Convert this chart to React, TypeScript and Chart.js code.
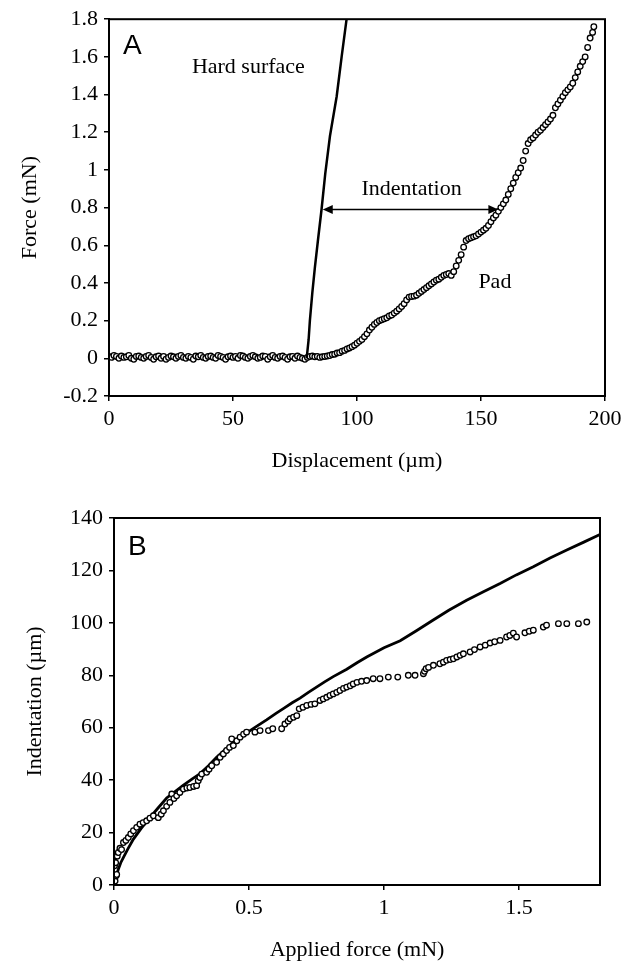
import React, { useEffect, useRef } from 'react';
import { Chart, registerables } from 'chart.js';

Chart.register(...registerables);

const SERIF = "'Liberation Serif', 'Times New Roman', serif";
const SANS = "'Liberation Sans', Arial, sans-serif";

// ---------- Panel A : Force vs displacement ----------
const dispTicks = [0, 50, 100, 150, 200];
const forceTicks = [-0.2, 0, 0.2, 0.4, 0.6, 0.8, 1, 1.2, 1.4, 1.6, 1.8];

const hardSurface: [number, number][] = [
  [79.7, 0.0], [80.5, 0.1], [81, 0.2], [82, 0.35], [83, 0.48], [84.2, 0.62],
  [85.7, 0.79], [87.2, 0.98], [89.1, 1.18], [91.8, 1.39], [93.8, 1.6], [95.8, 1.8],
];

const padPoints: [number, number][] = [
  [0, 0.01], [1, 0.005], [2, 0.015], [3, 0.01], [4, 0.0], [5, 0.012], [6, 0.005], [7, 0.008],
  [8, 0.015], [9, 0.0], [10, -0.005], [11, 0.01], [12, 0.012], [13, 0.005], [14, 0.0], [15, 0.01],
  [16, 0.015], [17, 0.005], [18, -0.005], [19, 0.008], [20, 0.012], [21, 0.0], [22, 0.01], [23, -0.005],
  [24, 0.005], [25, 0.012], [26, 0.008], [27, 0.0], [28, 0.01], [29, 0.015], [30, 0.005], [31, 0.0],
  [32, 0.01], [33, 0.005], [34, -0.005], [35, 0.012], [36, 0.008], [37, 0.015], [38, 0.005], [39, 0.0],
  [40, 0.01], [41, 0.012], [42, 0.005], [43, 0.0], [44, 0.015], [45, 0.01], [46, 0.005], [47, -0.005],
  [48, 0.008], [49, 0.012], [50, 0.005], [51, 0.01], [52, 0.0], [53, 0.015], [54, 0.012], [55, 0.005],
  [56, 0.0], [57, 0.01], [58, 0.015], [59, 0.008], [60, 0.0], [61, 0.005], [62, 0.012], [63, 0.01],
  [64, -0.005], [65, 0.008], [66, 0.015], [67, 0.005], [68, 0.0], [69, 0.01], [70, 0.012], [71, 0.005],
  [72, -0.005], [73, 0.008], [74, 0.01], [75, 0.0], [76, 0.012], [77, 0.005], [78, 0.0], [79, -0.005],
  [80, 0.005], [81, 0.01], [82, 0.012], [83, 0.008], [84, 0.01],
  [85, 0.005], [86, 0.008], [87, 0.01], [88, 0.012], [89, 0.015], [90, 0.02], [91, 0.022], [92, 0.028],
  [93, 0.03], [94, 0.038], [95, 0.042], [96, 0.05], [97, 0.055], [98, 0.062], [99, 0.07], [100, 0.08],
  [101, 0.09], [102, 0.1], [103, 0.115], [104, 0.13], [105, 0.15], [106, 0.165], [107, 0.18], [108, 0.19],
  [109, 0.2], [110, 0.205], [111, 0.21], [112, 0.215], [113, 0.225], [114, 0.23], [115, 0.24], [116, 0.25],
  [117, 0.262], [118, 0.275], [119, 0.29], [120, 0.31], [121, 0.325], [122, 0.328], [123, 0.33], [124, 0.335],
  [125, 0.345], [126, 0.355], [127, 0.365], [128, 0.375], [129, 0.385], [130, 0.395], [131, 0.405], [132, 0.415],
  [133, 0.42], [134, 0.43], [135, 0.44], [136, 0.445], [137, 0.45], [138, 0.44], [139, 0.46], [140, 0.49],
  [141, 0.52], [142, 0.55], [143, 0.59], [144, 0.625], [145, 0.635], [146, 0.64], [147, 0.645], [148, 0.65],
  [149, 0.66], [150, 0.67], [151, 0.68], [152, 0.69], [153, 0.705], [154, 0.725], [155, 0.745], [156, 0.76],
  [157, 0.78], [158, 0.8], [159, 0.82], [160, 0.84], [161, 0.87], [162, 0.9], [163, 0.93], [164, 0.96],
  [165, 0.985], [166, 1.01], [167, 1.05], [168, 1.1], [169, 1.14], [170, 1.16], [171, 1.17], [172, 1.185],
  [173, 1.2], [174, 1.21], [175, 1.225], [176, 1.24], [177, 1.255], [178, 1.27], [179, 1.29], [180, 1.33],
  [181, 1.35], [182, 1.37], [183, 1.39], [184, 1.41], [185, 1.425], [186, 1.44], [187, 1.46], [188, 1.49],
  [189, 1.52], [190, 1.55], [191, 1.575], [192, 1.6], [193, 1.65], [194, 1.7], [195, 1.73], [195.5, 1.76],
];

const indentationArrow = { from: 86.2, to: 157, force: 0.79 };

const panelALabels = [
  { text: 'Hard surface', x: 56.2, y: 1.545 },
  { text: 'Indentation', x: 122, y: 0.9 },
  { text: 'Pad', x: 155.6, y: 0.405 },
];

// ---------- Panel B : Indentation vs applied force ----------
const appliedTicks = [0, 0.5, 1, 1.5];
const indentTicks = [0, 20, 40, 60, 80, 100, 120, 140];

const fitLine: [number, number][] = [
  [0.005, 1], [0.01, 4], [0.016, 6], [0.025, 8.5], [0.035, 10.5], [0.05, 13.5], [0.072, 17.5],
  [0.1, 21.5], [0.133, 25.7], [0.16, 29], [0.195, 33.2], [0.225, 35.5], [0.256, 38], [0.29, 40.5],
  [0.319, 42.5], [0.35, 45.5], [0.38, 48.7], [0.41, 51.5], [0.442, 54.4], [0.47, 56.5], [0.504, 58.9],
  [0.535, 61], [0.565, 63], [0.6, 65.5], [0.63, 67.5], [0.66, 69.5], [0.689, 71.3], [0.72, 73.5],
  [0.75, 75.5], [0.78, 77.5], [0.812, 79.5], [0.862, 82.3], [0.9, 84.8], [0.936, 87], [1.0, 90.5],
  [1.06, 93.2], [1.12, 97], [1.181, 101], [1.24, 104.8], [1.306, 108.6], [1.37, 112], [1.43, 115],
  [1.49, 118.3], [1.553, 121.4], [1.615, 124.7], [1.677, 127.8], [1.74, 130.8], [1.8, 133.7],
];

const measured: [number, number][] = [
  [0.0, 2], [0.004, 1.5], [0.008, 3.5], [0.01, 4], [0.002, 7.3], [0.006, 8.5], [0.004, 10.8], [0.012, 11],
  [0.016, 12.4], [0.022, 14], [0.028, 13.5], [0.035, 16.2], [0.044, 17], [0.053, 18.1], [0.062, 19.5],
  [0.072, 20.7], [0.084, 22], [0.096, 23.2], [0.108, 23.8], [0.121, 24.5], [0.133, 25.5], [0.146, 26.4],
  [0.164, 25.7], [0.175, 27], [0.183, 28.3], [0.195, 30], [0.207, 31.5], [0.214, 34.7], [0.222, 33],
  [0.232, 34], [0.244, 35.3], [0.257, 36.6], [0.27, 37], [0.281, 37.2], [0.295, 37.6], [0.306, 37.9],
  [0.312, 39.8], [0.318, 41], [0.325, 42.3], [0.343, 43], [0.352, 44.2], [0.362, 45.5], [0.38, 46.8],
  [0.393, 48.7], [0.405, 50], [0.417, 51.3], [0.428, 52.5], [0.436, 55.7], [0.442, 53.2], [0.455, 55],
  [0.467, 56.4], [0.48, 57.5], [0.491, 58.3], [0.522, 58.3], [0.541, 58.9], [0.572, 58.9], [0.588, 59.6],
  [0.621, 59.6], [0.633, 61.4], [0.645, 62.5], [0.652, 63.4], [0.665, 64], [0.677, 64.6], [0.686, 67.2],
  [0.7, 67.8], [0.714, 68.5], [0.73, 68.9], [0.744, 69.1], [0.763, 70.4], [0.775, 71], [0.788, 71.6],
  [0.8, 72.3], [0.812, 72.9], [0.825, 73.5], [0.837, 74.2], [0.85, 75], [0.862, 75.5], [0.875, 76],
  [0.886, 76.7], [0.9, 77.3], [0.917, 77.7], [0.936, 78], [0.96, 78.7], [0.985, 78.7], [1.016, 79.3],
  [1.051, 79.3], [1.09, 80], [1.115, 80], [1.146, 80.6], [1.15, 81.5], [1.156, 82.5], [1.165, 83],
  [1.183, 83.8], [1.207, 84.4], [1.22, 85], [1.232, 85.7], [1.245, 86], [1.257, 86.3], [1.27, 87],
  [1.282, 87.6], [1.294, 88.2], [1.319, 88.9], [1.335, 89.8], [1.356, 90.8], [1.375, 91.5], [1.393, 92.3],
  [1.41, 92.8], [1.43, 93.3], [1.454, 94.6], [1.466, 95.2], [1.479, 96.1], [1.491, 94.6], [1.522, 96.2],
  [1.538, 96.8], [1.553, 97.2], [1.59, 98.4], [1.602, 99.1], [1.646, 99.7], [1.677, 99.7], [1.72, 99.7],
  [1.751, 100.3],
];

// ---------- shared styling ----------
const tickFont = { family: SERIF, size: 22 };

function axis(opts: {
  min: number; max: number; ticks: number[]; title: string;
  fixed: number; horizontal: boolean; titlePad: any;
}) {
  return {
    type: 'linear' as const,
    min: opts.min,
    max: opts.max,
    afterBuildTicks: (s: any) => { s.ticks = opts.ticks.map((v) => ({ value: v })); },
    afterFit: (s: any) => {
      if (opts.horizontal) s.height = opts.fixed; else s.width = opts.fixed;
    },
    ticks: {
      color: '#000',
      font: tickFont,
      padding: opts.horizontal ? 5 : 6,
      autoSkip: false,
      maxRotation: 0,
      callback: (v: any) => String(Math.round(Number(v) * 1000) / 1000),
    },
    grid: {
      drawOnChartArea: false,
      drawTicks: true,
      tickLength: 5,
      color: '#000',
      lineWidth: 1.5,
    },
    border: { display: true, color: '#000', width: 2 },
    title: {
      display: true,
      text: opts.title,
      color: '#000',
      font: { family: SERIF, size: 22 },
      padding: opts.titlePad,
    },
  };
}

function makePlugin(id: string, letter: string, letterDx: number, letterDy: number, draw?: (chart: any) => void) {
  return {
    id,
    afterDraw(chart: any) {
      const { ctx, chartArea: a } = chart;
      ctx.save();
      ctx.strokeStyle = '#000';
      ctx.lineWidth = 2;
      ctx.strokeRect(a.left, a.top, a.right - a.left, a.bottom - a.top);
      ctx.fillStyle = '#000';
      ctx.font = `28px ${SANS}`;
      ctx.textAlign = 'left';
      ctx.textBaseline = 'alphabetic';
      ctx.fillText(letter, a.left + letterDx, a.top + letterDy);
      if (draw) draw(chart);
      ctx.restore();
    },
  };
}

function drawPanelA(chart: any) {
  const { ctx, scales: { x, y } } = chart;
  // arrow
  const yy = y.getPixelForValue(indentationArrow.force);
  const x1 = x.getPixelForValue(indentationArrow.from);
  const x2 = x.getPixelForValue(indentationArrow.to);
  const head = 10;
  const half = 4.5;
  ctx.strokeStyle = '#000';
  ctx.fillStyle = '#000';
  ctx.lineWidth = 1.5;
  ctx.beginPath();
  ctx.moveTo(x1 + head - 1, yy);
  ctx.lineTo(x2 - head + 1, yy);
  ctx.stroke();
  ctx.beginPath();
  ctx.moveTo(x1, yy);
  ctx.lineTo(x1 + head, yy - half);
  ctx.lineTo(x1 + head, yy + half);
  ctx.closePath();
  ctx.fill();
  ctx.beginPath();
  ctx.moveTo(x2, yy);
  ctx.lineTo(x2 - head, yy - half);
  ctx.lineTo(x2 - head, yy + half);
  ctx.closePath();
  ctx.fill();
  // labels
  ctx.font = `22px ${SERIF}`;
  ctx.textAlign = 'center';
  ctx.textBaseline = 'middle';
  for (const l of panelALabels) {
    ctx.fillText(l.text, x.getPixelForValue(l.x), y.getPixelForValue(l.y));
  }
}

const pointStyle = {
  pointRadius: 2.8,
  pointBorderWidth: 1.3,
  pointBackgroundColor: '#fff',
  pointBorderColor: '#000',
};

function PanelA() {
  const ref = useRef<HTMLCanvasElement | null>(null);
  useEffect(() => {
    const chart = new Chart(ref.current as HTMLCanvasElement, {
      type: 'scatter',
      data: {
        datasets: [
          {
            label: 'Hard surface',
            data: hardSurface.map(([x, y]) => ({ x, y })),
            showLine: true,
            borderColor: '#000',
            borderWidth: 2.5,
            pointRadius: 0,
            order: 1,
          },
          {
            label: 'Pad',
            data: padPoints.map(([x, y]) => ({ x, y })),
            showLine: false,
            ...pointStyle,
            order: 2,
          },
        ],
      },
      options: {
        responsive: false,
        animation: false,
        devicePixelRatio: 1,
        layout: { padding: { top: 17, right: 29, left: 0, bottom: 0 } },
        plugins: { legend: { display: false }, tooltip: { enabled: false } },
        scales: {
          x: axis({ min: 0, max: 200, ticks: dispTicks, title: 'Displacement (µm)', fixed: 84, horizontal: true, titlePad: { top: 0, bottom: 6 } }),
          y: axis({ min: -0.2, max: 1.8, ticks: forceTicks, title: 'Force (mN)', fixed: 109, horizontal: false, titlePad: { top: 17, bottom: 0 } }),
        },
      } as any,
      plugins: [makePlugin('panelA', 'A', 14, 35, drawPanelA)],
    });
    return () => chart.destroy();
  }, []);
  return <canvas ref={ref} width={634} height={480} style={{ position: 'absolute', left: 0, top: 0, display: 'block' }} />;
}

function PanelB() {
  const ref = useRef<HTMLCanvasElement | null>(null);
  useEffect(() => {
    const chart = new Chart(ref.current as HTMLCanvasElement, {
      type: 'scatter',
      data: {
        datasets: [
          {
            label: 'Model',
            data: fitLine.map(([x, y]) => ({ x, y })),
            showLine: true,
            borderColor: '#000',
            borderWidth: 2.8,
            pointRadius: 0,
            order: 2,
          },
          {
            label: 'Measured',
            data: measured.map(([x, y]) => ({ x, y })),
            showLine: false,
            ...pointStyle,
            order: 1,
          },
        ],
      },
      options: {
        responsive: false,
        animation: false,
        devicePixelRatio: 1,
        layout: { padding: { top: 38, right: 34, left: 0, bottom: 0 } },
        plugins: { legend: { display: false }, tooltip: { enabled: false } },
        scales: {
          x: axis({ min: 0, max: 1.8, ticks: appliedTicks, title: 'Applied force (mN)', fixed: 80, horizontal: true, titlePad: { top: 0, bottom: 2 } }),
          y: axis({ min: 0, max: 140, ticks: indentTicks, title: 'Indentation (µm)', fixed: 114, horizontal: false, titlePad: { top: 22, bottom: 0 } }),
        },
      } as any,
      plugins: [makePlugin('panelB', 'B', 14, 37)],
    });
    return () => chart.destroy();
  }, []);
  return <canvas ref={ref} width={634} height={485} style={{ position: 'absolute', left: 0, top: 480, display: 'block' }} />;
}

export default function App() {
  return (
    <div style={{ position: 'absolute', left: 0, top: 0, width: 634, height: 965, background: '#fff' }}>
      <PanelA />
      <PanelB />
    </div>
  );
}
